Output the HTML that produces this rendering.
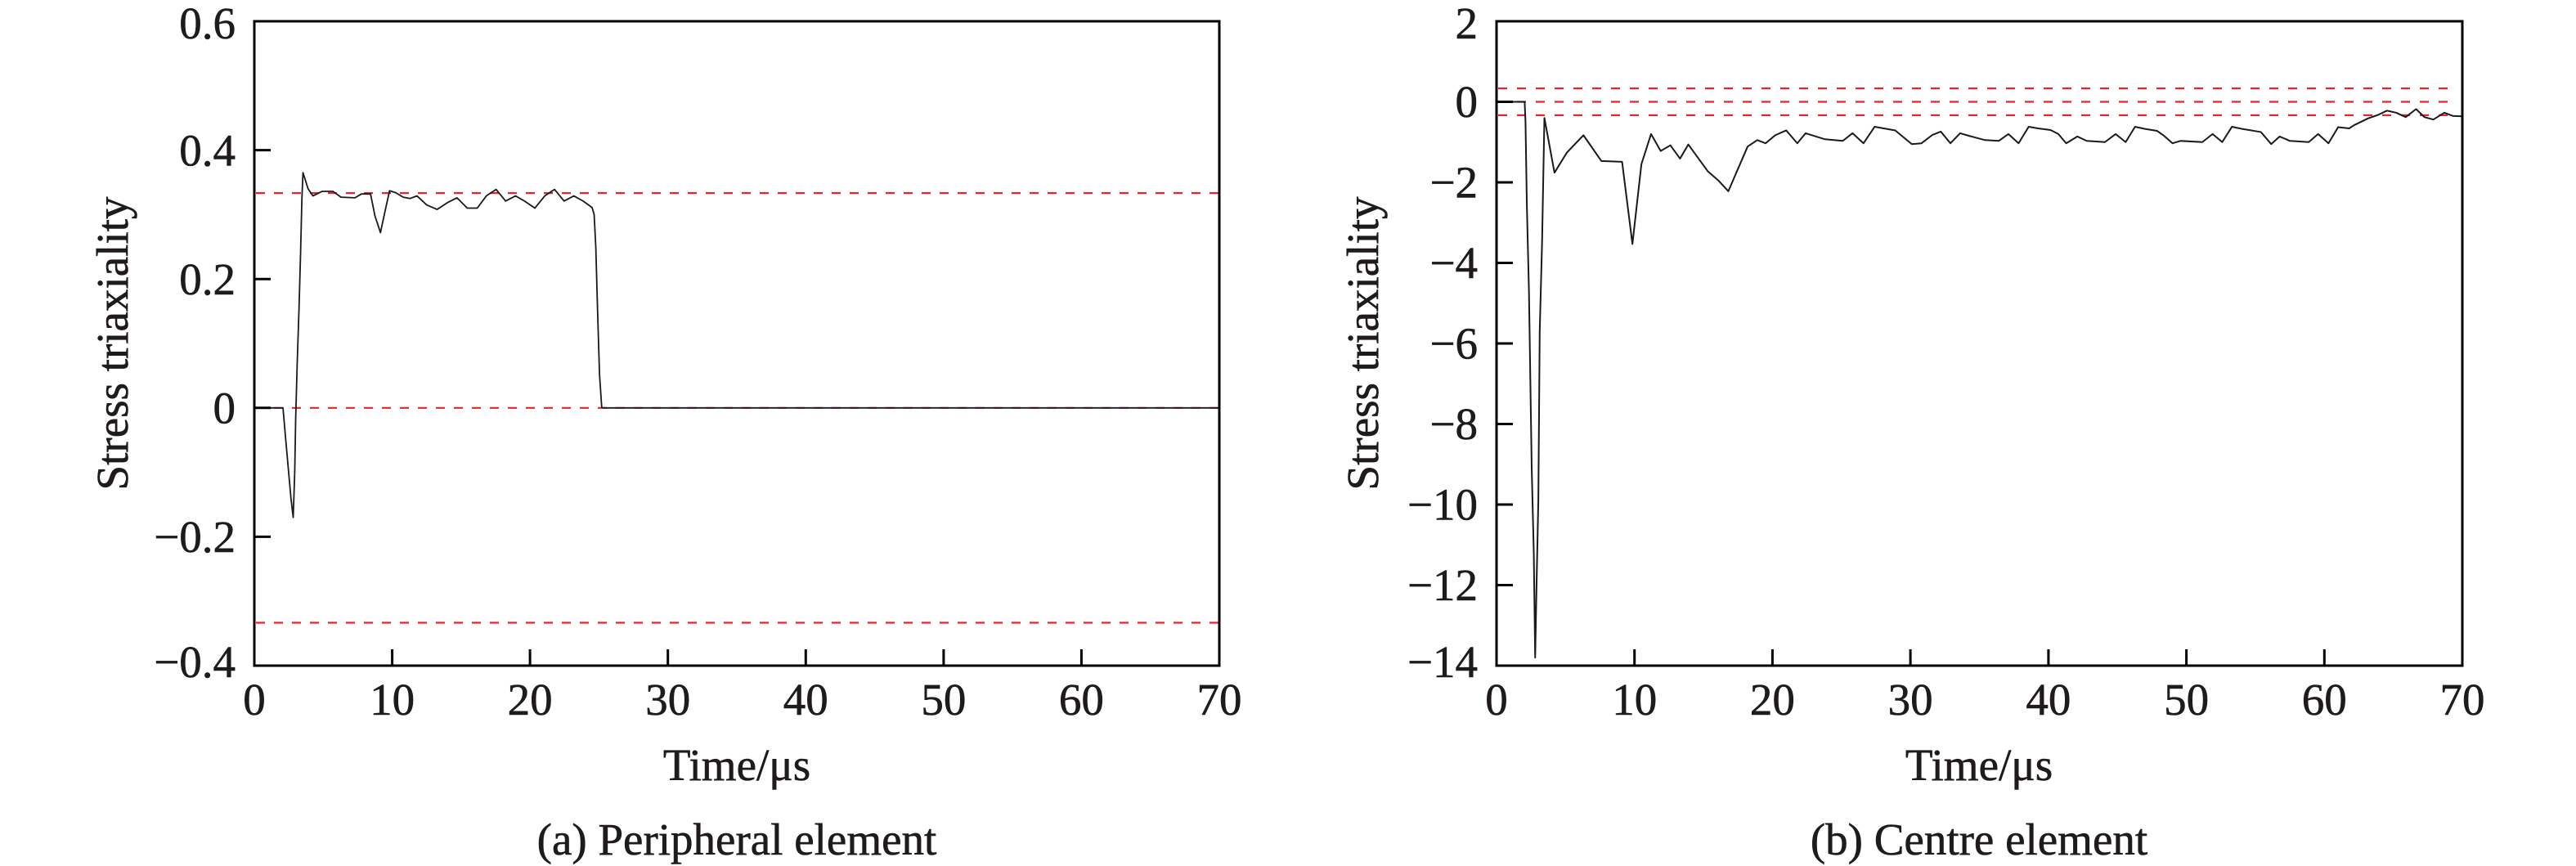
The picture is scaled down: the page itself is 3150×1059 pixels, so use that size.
<!DOCTYPE html>
<html>
<head>
<meta charset="utf-8">
<style>
  html, body { margin: 0; padding: 0; background: #ffffff; font-family: "Liberation Serif", serif; }
  svg { display: block; }
  svg text { font-family: "Liberation Serif", serif; fill: #1f1b1c; stroke: #1f1b1c; stroke-width: 0.6px; }
</style>
</head>
<body>
<svg width="3150" height="1059" viewBox="0 0 3150 1059" xmlns="http://www.w3.org/2000/svg" font-family="Liberation Serif, serif" style="font-family: 'Liberation Serif', serif;">
  <rect x="0" y="0" width="3150" height="1059" fill="#ffffff"/>

  <!-- ================= LEFT PLOT (a) ================= -->
  <g stroke="#e3262c" stroke-width="2.2" stroke-dasharray="11 11" fill="none">
    <line x1="313" y1="236.1" x2="1490" y2="236.1"/>
    <line x1="313" y1="498.8" x2="1490" y2="498.8"/>
    <line x1="313" y1="761.5" x2="1490" y2="761.5"/>
  </g>
  <g transform="translate(311,498.8) scale(16.857,-788)">
    <polyline fill="none" stroke="#1a1a1a" stroke-width="1.8" vector-effect="non-scaling-stroke" stroke-linejoin="round"
      points="0,0 2.08,0 2.26,-0.045 2.66,-0.141 2.82,-0.17 2.93,-0.10 3.0,-0.016 3.11,0.069 3.24,0.153 3.35,0.236 3.45,0.324 3.53,0.365 3.9,0.34 4.25,0.329 4.91,0.336 5.7,0.336 6.29,0.327 7.3,0.326 7.77,0.332 8.43,0.332 8.75,0.298 9.15,0.272 9.47,0.304 9.81,0.337 10.26,0.334 10.8,0.327 11.3,0.325 11.8,0.329 12.5,0.315 13.26,0.308 14.05,0.319 14.7,0.326 15.45,0.31 16.17,0.31 16.83,0.329 17.54,0.339 18.23,0.321 18.95,0.329 19.6,0.321 20.35,0.31 21.07,0.329 21.78,0.339 22.47,0.321 23.18,0.329 23.85,0.321 24.5,0.311 24.65,0.30 24.77,0.25 24.9,0.151 25.04,0.052 25.2,0.001 25.3,0 70,0"/>
  </g>
  <rect x="311" y="26" width="1180" height="788" fill="none" stroke="#000" stroke-width="3"/>
  <g stroke="#000" stroke-width="3">
    <line x1="479.6" y1="814" x2="479.6" y2="794"/>
    <line x1="648.1" y1="814" x2="648.1" y2="794"/>
    <line x1="816.7" y1="814" x2="816.7" y2="794"/>
    <line x1="985.3" y1="814" x2="985.3" y2="794"/>
    <line x1="1153.9" y1="814" x2="1153.9" y2="794"/>
    <line x1="1322.4" y1="814" x2="1322.4" y2="794"/>
    <line x1="311" y1="183.6" x2="331" y2="183.6"/>
    <line x1="311" y1="341.2" x2="331" y2="341.2"/>
    <line x1="311" y1="498.8" x2="331" y2="498.8"/>
    <line x1="311" y1="656.4" x2="331" y2="656.4"/>
  </g>
  <g font-size="55" text-anchor="end" font-family="Liberation Serif, serif">
    <text x="288" y="47">0.6</text>
    <text x="288" y="202.5">0.4</text>
    <text x="288" y="360">0.2</text>
    <text x="288" y="517.5">0</text>
    <text x="288" y="675">−0.2</text>
    <text x="288" y="828">−0.4</text>
  </g>
  <g font-size="55" text-anchor="middle" font-family="Liberation Serif, serif">
    <text x="311" y="874">0</text>
    <text x="479.6" y="874">10</text>
    <text x="648.1" y="874">20</text>
    <text x="816.7" y="874">30</text>
    <text x="985.3" y="874">40</text>
    <text x="1153.9" y="874">50</text>
    <text x="1322.4" y="874">60</text>
    <text x="1491" y="874">70</text>
  </g>
  <g font-size="55" text-anchor="middle" font-family="Liberation Serif, serif">
    <text x="901" y="954">Time/μs</text>
    <text x="901" y="1045">(a) Peripheral element</text>
    <text transform="translate(156,420) rotate(-90)">Stress triaxiality</text>
  </g>

  <!-- ================= RIGHT PLOT (b) ================= -->
  <g stroke="#e3262c" stroke-width="2.2" stroke-dasharray="11 12" fill="none">
    <line x1="1832" y1="108.1" x2="3002" y2="108.1"/>
    <line x1="1832" y1="124.5" x2="3002" y2="124.5"/>
    <line x1="1832" y1="140.9" x2="3002" y2="140.9"/>
  </g>
  <g transform="translate(1830,124.5) scale(16.871,-49.25)">
    <polyline fill="none" stroke="#1a1a1a" stroke-width="2" vector-effect="non-scaling-stroke" stroke-linejoin="round"
      points="0,0 2.04,0 2.1,-0.5 2.2,-2.6 2.35,-4.7 2.45,-6.9 2.55,-9.1 2.7,-11.2 2.8,-13.8 2.9,-12 3.03,-9.9 3.13,-5.7 3.3,-3.5 3.47,-0.4 4.2,-1.76 5.1,-1.26 6.3,-0.83 7.6,-1.47 9.1,-1.49 9.85,-3.53 10.5,-1.55 11.2,-0.8 11.9,-1.22 12.6,-1.08 13.3,-1.41 13.9,-1.06 15.3,-1.72 16.1,-1.96 16.8,-2.22 18.2,-1.11 18.9,-0.95 19.5,-1.03 20.2,-0.83 21.0,-0.71 21.8,-1.03 22.4,-0.78 23.8,-0.93 25.1,-0.97 25.8,-0.78 26.6,-1.03 27.4,-0.62 28.9,-0.71 30.1,-1.05 30.8,-1.03 31.6,-0.82 32.2,-0.74 32.9,-1.03 33.6,-0.78 34.3,-0.85 35.4,-0.95 36.4,-0.97 37.1,-0.8 37.84,-1.03 38.57,-0.62 39.25,-0.66 40.16,-0.7 40.72,-0.8 41.29,-1.03 42.1,-0.86 42.77,-0.97 44.1,-1.0 44.87,-0.8 45.6,-1.0 46.28,-0.62 46.96,-0.67 47.87,-0.72 48.4,-0.85 49.0,-1.03 49.57,-0.97 51.16,-1.0 51.9,-0.8 52.6,-1.0 53.3,-0.62 54.0,-0.67 55.4,-0.75 56.15,-1.05 56.76,-0.86 57.5,-0.97 58.87,-1.0 59.55,-0.8 60.3,-1.03 61.0,-0.63 61.8,-0.66 62.16,-0.58 63.18,-0.41 63.86,-0.33 64.54,-0.22 65.2,-0.27 65.9,-0.38 66.65,-0.18 67.25,-0.38 67.9,-0.44 68.7,-0.27 69.3,-0.35 70,-0.36"/>
  </g>
  <rect x="1830" y="26" width="1181" height="788" fill="none" stroke="#000" stroke-width="3"/>
  <g stroke="#000" stroke-width="3">
    <line x1="1998.7" y1="814" x2="1998.7" y2="794"/>
    <line x1="2167.4" y1="814" x2="2167.4" y2="794"/>
    <line x1="2336.1" y1="814" x2="2336.1" y2="794"/>
    <line x1="2504.9" y1="814" x2="2504.9" y2="794"/>
    <line x1="2673.6" y1="814" x2="2673.6" y2="794"/>
    <line x1="2842.3" y1="814" x2="2842.3" y2="794"/>
    <line x1="1830" y1="124.5" x2="1850" y2="124.5"/>
    <line x1="1830" y1="223" x2="1850" y2="223"/>
    <line x1="1830" y1="321.5" x2="1850" y2="321.5"/>
    <line x1="1830" y1="420" x2="1850" y2="420"/>
    <line x1="1830" y1="518.5" x2="1850" y2="518.5"/>
    <line x1="1830" y1="617" x2="1850" y2="617"/>
    <line x1="1830" y1="715.5" x2="1850" y2="715.5"/>
  </g>
  <g font-size="55" text-anchor="end" font-family="Liberation Serif, serif">
    <text x="1807" y="47">2</text>
    <text x="1807" y="143">0</text>
    <text x="1807" y="241.5">−2</text>
    <text x="1807" y="340">−4</text>
    <text x="1807" y="438.5">−6</text>
    <text x="1807" y="537">−8</text>
    <text x="1807" y="635.5">−10</text>
    <text x="1807" y="734">−12</text>
    <text x="1807" y="828">−14</text>
  </g>
  <g font-size="55" text-anchor="middle" font-family="Liberation Serif, serif">
    <text x="1830" y="874">0</text>
    <text x="1998.7" y="874">10</text>
    <text x="2167.4" y="874">20</text>
    <text x="2336.1" y="874">30</text>
    <text x="2504.9" y="874">40</text>
    <text x="2673.6" y="874">50</text>
    <text x="2842.3" y="874">60</text>
    <text x="3011" y="874">70</text>
  </g>
  <g font-size="55" text-anchor="middle" font-family="Liberation Serif, serif">
    <text x="2420" y="954">Time/μs</text>
    <text x="2420" y="1045">(b) Centre element</text>
    <text transform="translate(1685,420) rotate(-90)">Stress triaxiality</text>
  </g>
</svg>
</body>
</html>
